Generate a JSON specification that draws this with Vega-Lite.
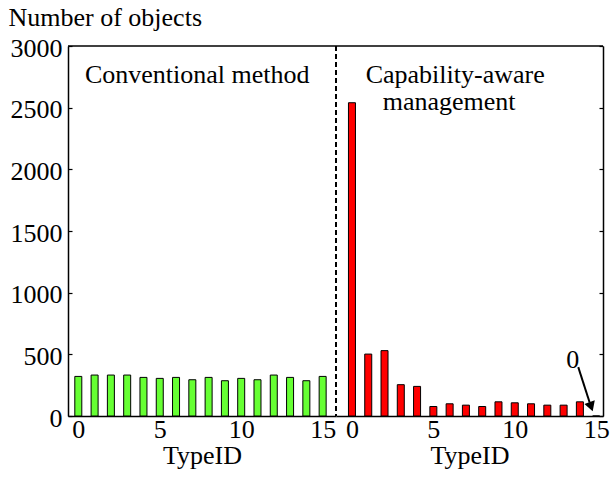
{
  "$schema": "https://vega.github.io/schema/vega-lite/v6.json",
  "background": "white",
  "padding": {"left": 8, "top": 4, "right": 5, "bottom": 5},
  "datasets": {
    "conventional": [
      {"TypeID": 0, "objects": 321}, {"TypeID": 1, "objects": 332}, {"TypeID": 2, "objects": 332}, {"TypeID": 3, "objects": 332},
      {"TypeID": 4, "objects": 313}, {"TypeID": 5, "objects": 305}, {"TypeID": 6, "objects": 313}, {"TypeID": 7, "objects": 294},
      {"TypeID": 8, "objects": 313}, {"TypeID": 9, "objects": 286}, {"TypeID": 10, "objects": 305}, {"TypeID": 11, "objects": 294},
      {"TypeID": 12, "objects": 332}, {"TypeID": 13, "objects": 313}, {"TypeID": 14, "objects": 286}, {"TypeID": 15, "objects": 321}
    ],
    "capability": [
      {"TypeID": 0, "objects": 2540}, {"TypeID": 1, "objects": 502}, {"TypeID": 2, "objects": 530}, {"TypeID": 3, "objects": 254},
      {"TypeID": 4, "objects": 240}, {"TypeID": 5, "objects": 77}, {"TypeID": 6, "objects": 99}, {"TypeID": 7, "objects": 88},
      {"TypeID": 8, "objects": 77}, {"TypeID": 9, "objects": 115}, {"TypeID": 10, "objects": 107}, {"TypeID": 11, "objects": 99},
      {"TypeID": 12, "objects": 88}, {"TypeID": 13, "objects": 88}, {"TypeID": 14, "objects": 115}, {"TypeID": 15, "objects": 0}
    ]
  },
  "spacing": 0,
  "bounds": "flush",
  "resolve": {"scale": {"x": "independent", "y": "independent"}},
  "hconcat": [
    {
      "width": 268,
      "height": 370,
      "layer": [
        {
          "data": {"name": "conventional"},
          "mark": {"type": "bar", "size": 7, "fill": "#66ff33", "stroke": "black", "strokeWidth": 1},
          "encoding": {
            "x": {"field": "TypeID", "type": "quantitative",
                  "scale": {"domain": [-0.633, 15.82], "nice": false, "zero": false, "padding": 0},
                  "axis": {"values": [0, 5, 10, 15], "ticks": false, "labelPadding": 0, "title": "TypeID", "titlePadding": 0, "labelFlush": false, "format": "d"}},
            "y": {"field": "objects", "type": "quantitative",
                  "scale": {"domain": [0, 3000], "nice": false},
                  "axis": {"values": [0, 500, 1000, 1500, 2000, 2500, 3000], "format": "d", "tickSize": -4, "labelPadding": 10, "labelFlush": false,
                           "labelBaseline": "middle", "labelOffset": 2,
                           "title": "Number of objects", "titleAngle": 0, "titleAlign": "left", "titleBaseline": "alphabetic",
                           "titleX": -60, "titleY": -21}}
          }
        },
        {
          "data": {"values": [{}]},
          "mark": {"type": "rule", "color": "black", "strokeWidth": 1.5},
          "encoding": {"y": {"datum": 3000, "type": "quantitative"}}
        },
        {
          "data": {"values": [{}]},
          "mark": {"type": "rule", "color": "black", "strokeWidth": 2, "strokeDash": [5, 3]},
          "encoding": {"x": {"datum": 15.82, "type": "quantitative"}}
        },
        {
          "data": {"values": [{}]},
          "mark": {"type": "text", "text": "Conventional method", "align": "center", "baseline": "alphabetic"},
          "encoding": {"x": {"datum": 7.3, "type": "quantitative"}, "y": {"datum": 2699, "type": "quantitative"}}
        }
      ]
    },
    {
      "width": 267,
      "height": 370,
      "layer": [
        {
          "data": {"name": "capability"},
          "mark": {"type": "bar", "size": 7, "fill": "#ff0000", "stroke": "black", "strokeWidth": 1},
          "encoding": {
            "x": {"field": "TypeID", "type": "quantitative",
                  "scale": {"domain": [-0.98, 15.42], "nice": false, "zero": false, "padding": 0},
                  "axis": {"values": [0, 5, 10, 15], "ticks": false, "labelPadding": 0, "title": "TypeID", "titlePadding": 0, "labelFlush": false, "format": "d"}},
            "y": {"field": "objects", "type": "quantitative",
                  "scale": {"domain": [0, 3000], "nice": false},
                  "axis": {"orient": "right", "values": [0, 500, 1000, 1500, 2000, 2500, 3000], "tickSize": -4, "labels": false, "title": null}}
          }
        },
        {
          "data": {"values": [{}]},
          "mark": {"type": "rule", "color": "black", "strokeWidth": 1.5},
          "encoding": {"y": {"datum": 3000, "type": "quantitative"}}
        },
        {
          "data": {"values": [{}]},
          "mark": {"type": "text", "text": "Capability-aware", "align": "center", "baseline": "alphabetic"},
          "encoding": {"x": {"datum": 6.34, "type": "quantitative"}, "y": {"datum": 2699, "type": "quantitative"}}
        },
        {
          "data": {"values": [{}]},
          "mark": {"type": "text", "text": "management", "align": "center", "baseline": "alphabetic"},
          "encoding": {"x": {"datum": 5.97, "type": "quantitative"}, "y": {"datum": 2480, "type": "quantitative"}}
        },
        {
          "data": {"values": [{}]},
          "mark": {"type": "text", "text": "0", "align": "center", "baseline": "alphabetic"},
          "encoding": {"x": {"datum": 13.56, "type": "quantitative"}, "y": {"datum": 386, "type": "quantitative"}}
        },
        {
          "data": {"values": [{}]},
          "mark": {"type": "rule", "color": "black", "strokeWidth": 2},
          "encoding": {
            "x": {"datum": 13.9, "type": "quantitative"}, "y": {"datum": 396, "type": "quantitative"},
            "x2": {"datum": 14.6}, "y2": {"datum": 110}
          }
        },
        {
          "data": {"values": [{}]},
          "mark": {"type": "point", "shape": "triangle", "angle": 161, "size": 120, "filled": true, "color": "black", "opacity": 1, "strokeWidth": 0},
          "encoding": {"x": {"datum": 14.66, "type": "quantitative"}, "y": {"datum": 88, "type": "quantitative"}}
        }
      ]
    }
  ],
  "config": {
    "view": {"stroke": null},
    "font": "Liberation Serif",
    "text": {"font": "Liberation Serif", "fontSize": 26, "color": "black"},
    "axis": {
      "grid": false,
      "domainColor": "black", "domainWidth": 1.5,
      "tickColor": "black", "tickWidth": 1.2,
      "labelColor": "black", "labelFont": "Liberation Serif", "labelFontSize": 26,
      "titleColor": "black", "titleFont": "Liberation Serif", "titleFontSize": 26, "titleFontWeight": "normal",
      "titlePadding": 2
    }
  }
}
